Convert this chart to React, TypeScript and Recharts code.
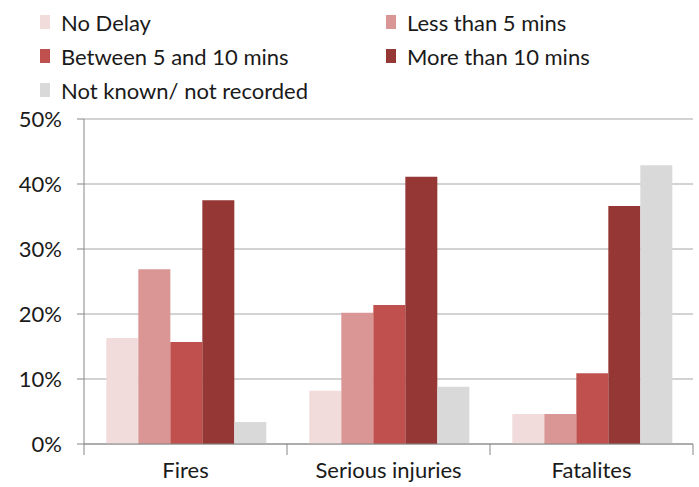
import React from 'react';
import { BarChart, Bar, XAxis, YAxis, CartesianGrid } from 'recharts';

const categories = ['Fires', 'Serious injuries', 'Fatalites'];
const noDelay = [16.3, 8.2, 4.6];
const lessThan5 = [26.9, 20.2, 4.6];
const between5And10 = [15.7, 21.4, 10.9];
const moreThan10 = [37.5, 41.1, 36.6];
const notKnown = [3.4, 8.8, 42.9];
const yTicks = [0, 10, 20, 30, 40, 50];

const series = [
  { key: 'noDelay', name: 'No Delay', values: noDelay, color: '#F2DCDB' },
  { key: 'lessThan5', name: 'Less than 5 mins', values: lessThan5, color: '#D99694' },
  { key: 'between5And10', name: 'Between 5 and 10 mins', values: between5And10, color: '#C0504D' },
  { key: 'moreThan10', name: 'More than 10 mins', values: moreThan10, color: '#953735' },
  { key: 'notKnown', name: 'Not known/ not recorded', values: notKnown, color: '#D9D9D9' },
];

const data = categories.map((name, i) => {
  const row: Record<string, string | number> = { name };
  series.forEach((s) => {
    row[s.key] = s.values[i];
  });
  return row;
});

const FONT = 'Lato, "DejaVu Sans", sans-serif';
const WIDTH = 699;
const HEIGHT = 487;
const xAxisHeight = 30;
// plot area: x 84..693, y 119..444
const margin = { top: 119, right: 6, bottom: 43 - xAxisHeight, left: 10 };
const yAxisWidth = 74;
const bandWidth = (WIDTH - margin.left - margin.right - yAxisWidth) / categories.length;

const XTick = (props: any) => {
  const { x, y, payload, index } = props;
  const half = bandWidth / 2;
  return (
    <g>
      <line x1={x - half} x2={x - half} y1={y} y2={y + 11} stroke="#868686" />
      {index === categories.length - 1 && (
        <line x1={x + half} x2={x + half} y1={y} y2={y + 11} stroke="#868686" />
      )}
      <text x={x} y={y + 34} textAnchor="middle" fill="#1a1a1a" fontSize={22} fontFamily={FONT}>
        {payload.value}
      </text>
    </g>
  );
};

const Legend = () => {
  const positions = [
    { x: 40, y: 22 },
    { x: 386, y: 22 },
    { x: 40, y: 56 },
    { x: 386, y: 56 },
    { x: 40, y: 90 },
  ];
  return (
    <>
      {series.map((s, i) => (
        <div
          key={s.key}
          style={{
            position: 'absolute',
            left: positions[i].x,
            top: positions[i].y - 15,
            height: 30,
            display: 'flex',
            alignItems: 'center',
            fontFamily: FONT,
            fontSize: 22,
            color: '#1a1a1a',
            whiteSpace: 'nowrap',
          }}
        >
          <span style={{ display: 'inline-block', width: 10, height: 14, background: s.color, marginRight: 11 }} />
          {s.name}
        </div>
      ))}
    </>
  );
};

export default function App() {
  return (
    <div style={{ position: 'relative', width: WIDTH, height: HEIGHT, background: '#fff' }}>
      <style>{'body{margin:0}'}</style>
      <Legend />
      <BarChart
        width={WIDTH}
        height={HEIGHT}
        data={data}
        margin={margin}
        barCategoryGap="11%"
        barGap={0}
      >
        <CartesianGrid vertical={false} stroke="#A6A6A6" />
        <XAxis
          dataKey="name"
          height={xAxisHeight}
          tick={<XTick />}
          tickLine={false}
          tickSize={0}
          tickMargin={0}
          axisLine={{ stroke: '#868686' }}
          interval={0}
        />
        <YAxis
          width={yAxisWidth}
          domain={[0, 50]}
          ticks={yTicks}
          tickFormatter={(v: number) => `${v}%`}
          tickSize={7}
          tickMargin={15}
          tickLine={{ stroke: '#868686' }}
          axisLine={{ stroke: '#868686' }}
          tick={{ fill: '#1a1a1a', fontSize: 22, fontFamily: FONT }}
        />
        {series.map((s) => (
          <Bar key={s.key} dataKey={s.key} name={s.name} fill={s.color} isAnimationActive={false} />
        ))}
      </BarChart>
    </div>
  );
}
